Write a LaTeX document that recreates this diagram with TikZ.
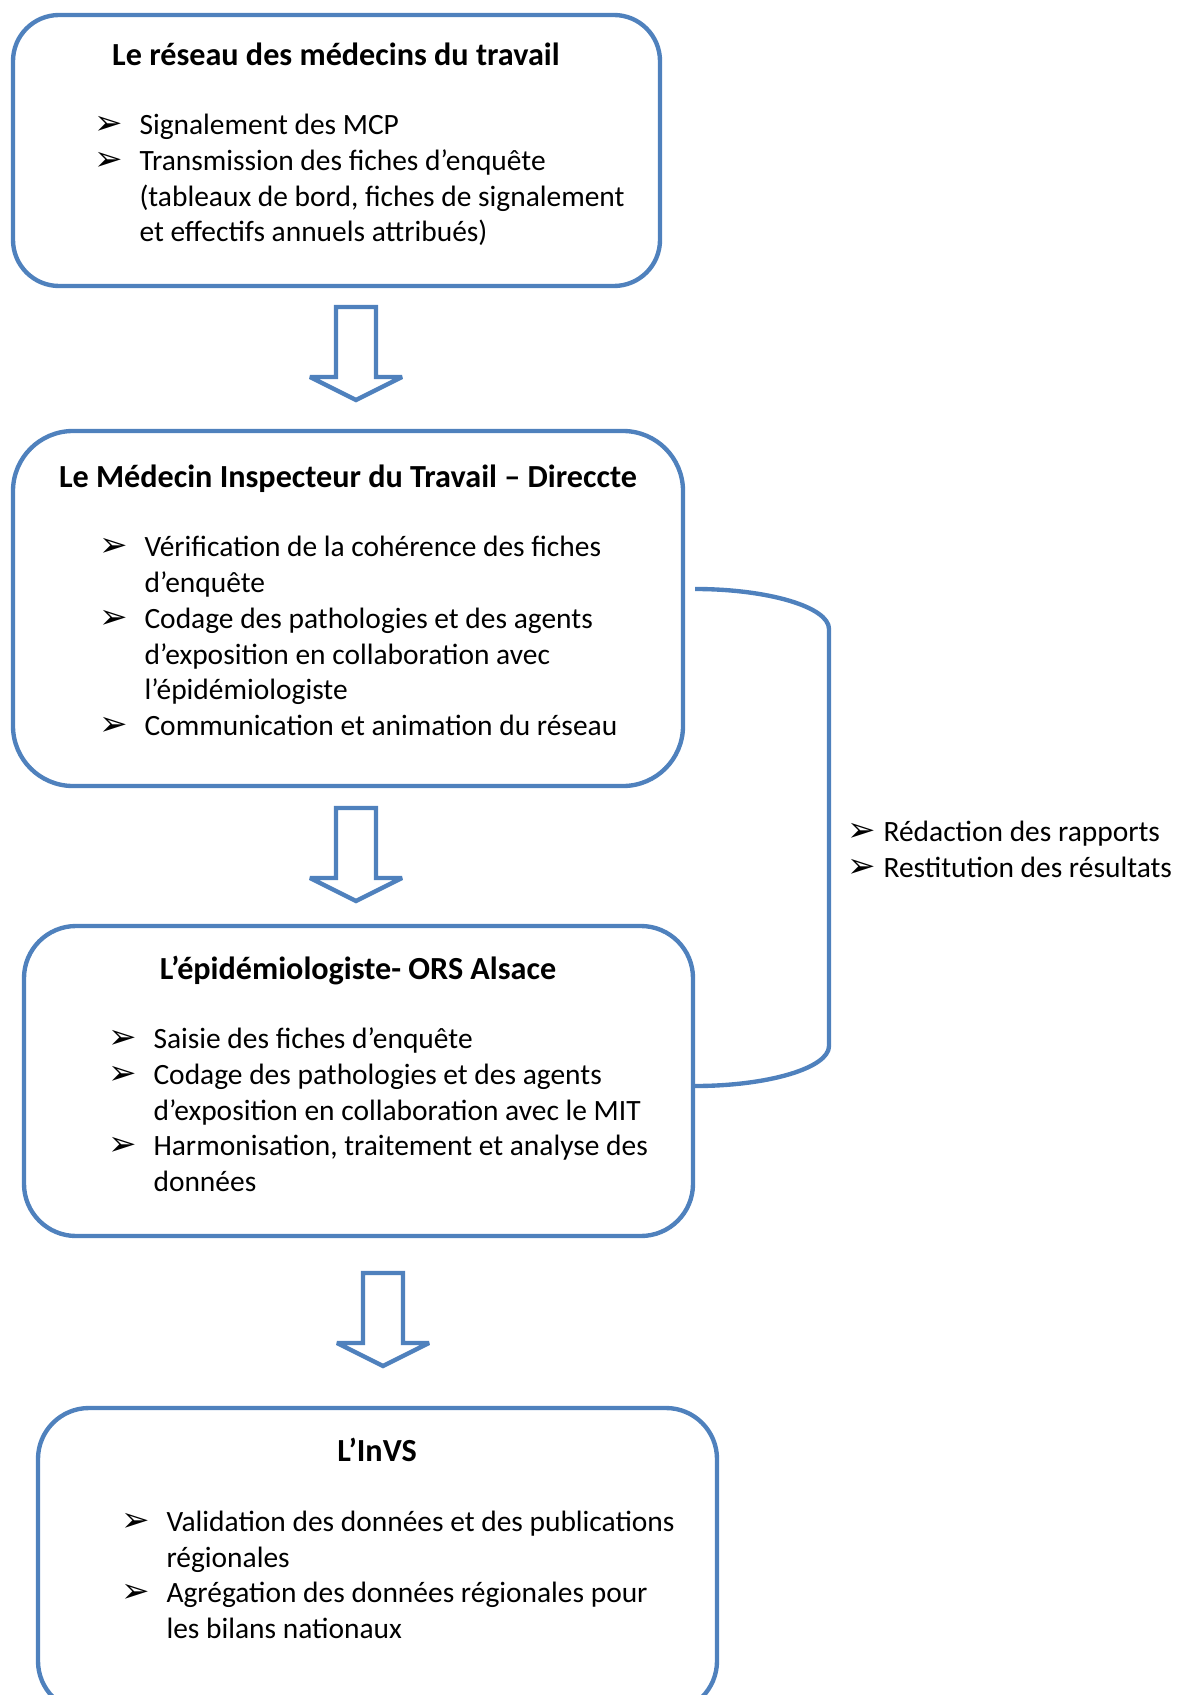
\documentclass[tikz,border=0pt]{standalone}
\usepackage{fontspec}
\setmainfont{Carlito}
\newfontfamily\dejavu{DejaVu Sans}
\usetikzlibrary{fit}
\definecolor{bleuword}{HTML}{4F81BD}
\newlength{\retrait}
\setlength{\retrait}{16.5pt}
\newcommand{\puce}{{\dejavu\fontsize{12.5}{13}\selectfont\char"27A2}}
\newcommand{\ligne}[1]{\makebox[\retrait][l]{\puce}#1}
\newcommand{\suite}[1]{\hspace*{\retrait}#1}
\newcommand{\lignecourte}[1]{\makebox[13.2pt][l]{\puce}#1}

\begin{document}
\begin{tikzpicture}[
    x=0.3667pt, y=-0.3667pt,
    font=\fontsize{10.8}{13.1}\selectfont,
    boite/.style={draw=bleuword, line width=1.6pt, inner sep=0pt}, % cadres arrondis
    titre/.style={anchor=base, inner sep=0pt, font=\fontsize{11.8}{13.1}\selectfont\bfseries},
    liste/.style={anchor=base west, align=left, inner sep=0pt}, % ancre sur la derniere ligne
    fleche/.style={draw=bleuword, line width=1.6pt, fill=white, line join=miter, miter limit=2},
    accolade/.style={draw=bleuword, line width=1.6pt}
  ]
  \useasboundingbox (0,0) rectangle (1182,1695);
  \clip (0,0) rectangle (1182,1695);

  % Le reseau des medecins du travail
  \node[boite, rounded corners=16.9pt, fit={(13,15) (660,286)}] (b1) {};
  \node[titre] (t1) at (336,66) {Le réseau des médecins du travail};
  \node[liste] (l1) at (94,242) {\ligne{Signalement des MCP}\\
    \ligne{Transmission des fiches d’enquête}\\
    \suite{(tableaux de bord, fiches de signalement}\\
    \suite{et effectifs annuels attribués)}};

  % Le MIT - Direccte
  \node[boite, rounded corners=22pt, fit={(13,431) (683,786)}] (b2) {};
  \node[titre] (t2) at (348,487) {Le Médecin Inspecteur du Travail – Direccte};
  \node[liste] (l2) at (99,735.5) {\ligne{Vérification de la cohérence des fiches}\\
    \suite{d’enquête}\\
    \ligne{Codage des pathologies et des agents}\\
    \suite{d’exposition en collaboration avec}\\
    \suite{l’épidémiologiste}\\
    \ligne{Communication et animation du réseau}};

  % L'epidemiologiste - ORS Alsace
  \node[boite, rounded corners=19.1pt, fit={(24,926) (693,1236)}] (b3) {};
  \node[titre] (t3) at (358,979) {L’épidémiologiste- ORS Alsace};
  \node[liste] (l3) at (108,1191.5) {\ligne{Saisie des fiches d’enquête}\\
    \ligne{Codage des pathologies et des agents}\\
    \suite{d’exposition en collaboration avec le MIT}\\
    \ligne{Harmonisation, traitement et analyse des}\\
    \suite{données}};

  % L'InVS
  \node[boite, rounded corners=18.7pt, fit={(38,1408) (717,1712)}] (b4) {};
  \node[titre] (t4) at (377,1461) {L’InVS};
  \node[liste] (l4) at (121,1638.5) {\ligne{Validation des données et des publications}\\
    \suite{régionales}\\
    \ligne{Agrégation des données régionales pour}\\
    \suite{les bilans nationaux}};

  % fleches pleines vers le bas
  \foreach \cx/\haut in {356/307, 356/808, 383/1273}
    \draw[fleche] (\cx-20,\haut) -- (\cx+20,\haut) -- (\cx+20,\haut+70) -- (\cx+46,\haut+70)
      -- (\cx,\haut+93) -- (\cx-46,\haut+70) -- (\cx-20,\haut+70) -- cycle;

  % accolade entre MIT et epidemiologiste
  \coordinate (a1) at (695,589);
  \coordinate (a2) at (695,1086);
  \draw[accolade] (a1) .. controls (768,589) and (829,607) .. (829,629)
    -- (829,1046) .. controls (829,1068) and (768,1086) .. (a2);
  \node[liste] (taches) at (847,877.5) {\lignecourte{Rédaction des rapports}\\
    \lignecourte{Restitution des résultats}};
\end{tikzpicture}
\end{document}
